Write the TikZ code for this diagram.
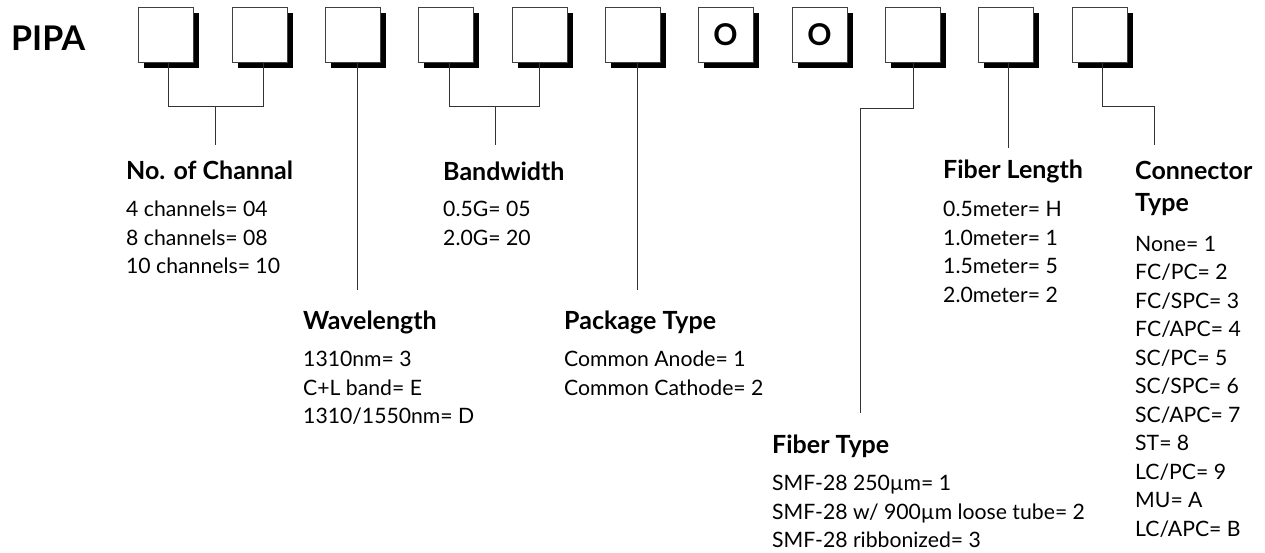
\documentclass[tikz,border=0pt]{standalone}
\usepackage{fontspec}
\setmainfont{Lato}
\usetikzlibrary{shadows}
\begin{document}
\begin{tikzpicture}[x=1pt,y=-1pt,
	digit/.style={draw=black!75,line width=0.8pt,fill=white,minimum size=55pt,inner sep=0pt,
		drop shadow={shadow xshift=6pt,shadow yshift=-6pt,fill=black,opacity=1}},
	fixed/.style={font=\bfseries\fontsize{30}{30}\selectfont},
	lead/.style={black!80,line width=0.9pt},
	head/.style={anchor=west,inner sep=0pt,align=left,font=\bfseries\fontsize{25}{32}\selectfont},
	opts/.style={anchor=north west,inner sep=0pt,align=left,font=\fontsize{21.2}{28.5}\selectfont}]
	\useasboundingbox (0,0) rectangle (1265,552);
	% part number
	\node[anchor=west,inner sep=0pt,font=\bfseries\fontsize{34}{34}\selectfont](pipa) at (11,38){PIPA};
	\node[digit](b1) at (165.5,34.5){};
	\node[digit](b2) at (259.5,34.5){};
	\node[digit](b3) at (352.5,34.5){};
	\node[digit](b4) at (445.5,34.5){};
	\node[digit](b5) at (539.5,34.5){};
	\node[digit](b6) at (632.5,34.5){};
	\node[digit,fixed](b7) at (725.5,34.5){O};
	\node[digit,fixed](b8) at (819.5,34.5){O};
	\node[digit](b9) at (912.5,34.5){};
	\node[digit](b10) at (1005.5,34.5){};
	\node[digit](b11) at (1099.5,34.5){};
	% field headings and codes
	\node[head](chan) at (126,170){No. of Channal};
	\node[opts](chanopts) at (126,201){4 channels= 04\\8 channels= 08\\10 channels= 10};
	\node[head](wave) at (303,322){Wavelength};
	\node[opts](waveopts) at (303,351){1310nm= 3\\C+L band= E\\1310/1550nm= D};
	\node[head](band) at (443,171){Bandwidth};
	\node[opts](bandopts) at (443,201){0.5G= 05\\2.0G= 20};
	\node[head](pack) at (564,322){Package Type};
	\node[opts](packopts) at (564,351){Common Anode= 1\\Common Cathode= 2};
	\node[head](ftype) at (772,446){Fiber Type};
	\node[opts](ftypeopts) at (772,475){SMF-28 250µm= 1\\SMF-28 w/ 900µm loose tube= 2\\SMF-28 ribbonized= 3};
	\node[head](flen) at (943,171){Fiber Length};
	\node[opts](flenopts) at (943,201){0.5meter= H\\1.0meter= 1\\1.5meter= 5\\2.0meter= 2};
	\node[head](conn) at (1135,188){Connector\\Type};
	\node[opts](connopts) at (1135,236){None= 1\\FC/PC= 2\\FC/SPC= 3\\FC/APC= 4\\SC/PC= 5\\SC/SPC= 6\\SC/APC= 7\\ST= 8\\LC/PC= 9\\MU= A\\LC/APC= B};
	% leader lines
	\coordinate (chanl) at (168,106);
	\coordinate (chanr) at (263,106);
	\coordinate (chanmid) at (215,106);
	\coordinate (chanend) at (215,145);
	\coordinate (waveend) at (357,290);
	\coordinate (bandl) at (449,106);
	\coordinate (bandr) at (539,106);
	\coordinate (bandmid) at (495,106);
	\coordinate (bandend) at (495,145);
	\coordinate (packend) at (637,290);
	\coordinate (ftbend) at (913,108);
	\coordinate (ftend) at (860,413);
	\coordinate (flenend) at (1008,148);
	\coordinate (connbend) at (1102,106);
	\coordinate (connend) at (1154,145);
	\draw[lead] (b1.south -| chanl) -- (chanl) -- (chanr) -- (b2.south -| chanr);
	\draw[lead] (chanmid) -- (chanend);
	\draw[lead] (b3.south -| waveend) -- (waveend);
	\draw[lead] (b4.south -| bandl) -- (bandl) -- (bandr) -- (b5.south -| bandr);
	\draw[lead] (bandmid) -- (bandend);
	\draw[lead] (b6.south -| packend) -- (packend);
	\draw[lead] (b9.south -| ftbend) -- (ftbend) -| (ftend);
	\draw[lead] (b10.south -| flenend) -- (flenend);
	\draw[lead] (b11.south -| connbend) -- (connbend) -| (connend);
\end{tikzpicture}
\end{document}
